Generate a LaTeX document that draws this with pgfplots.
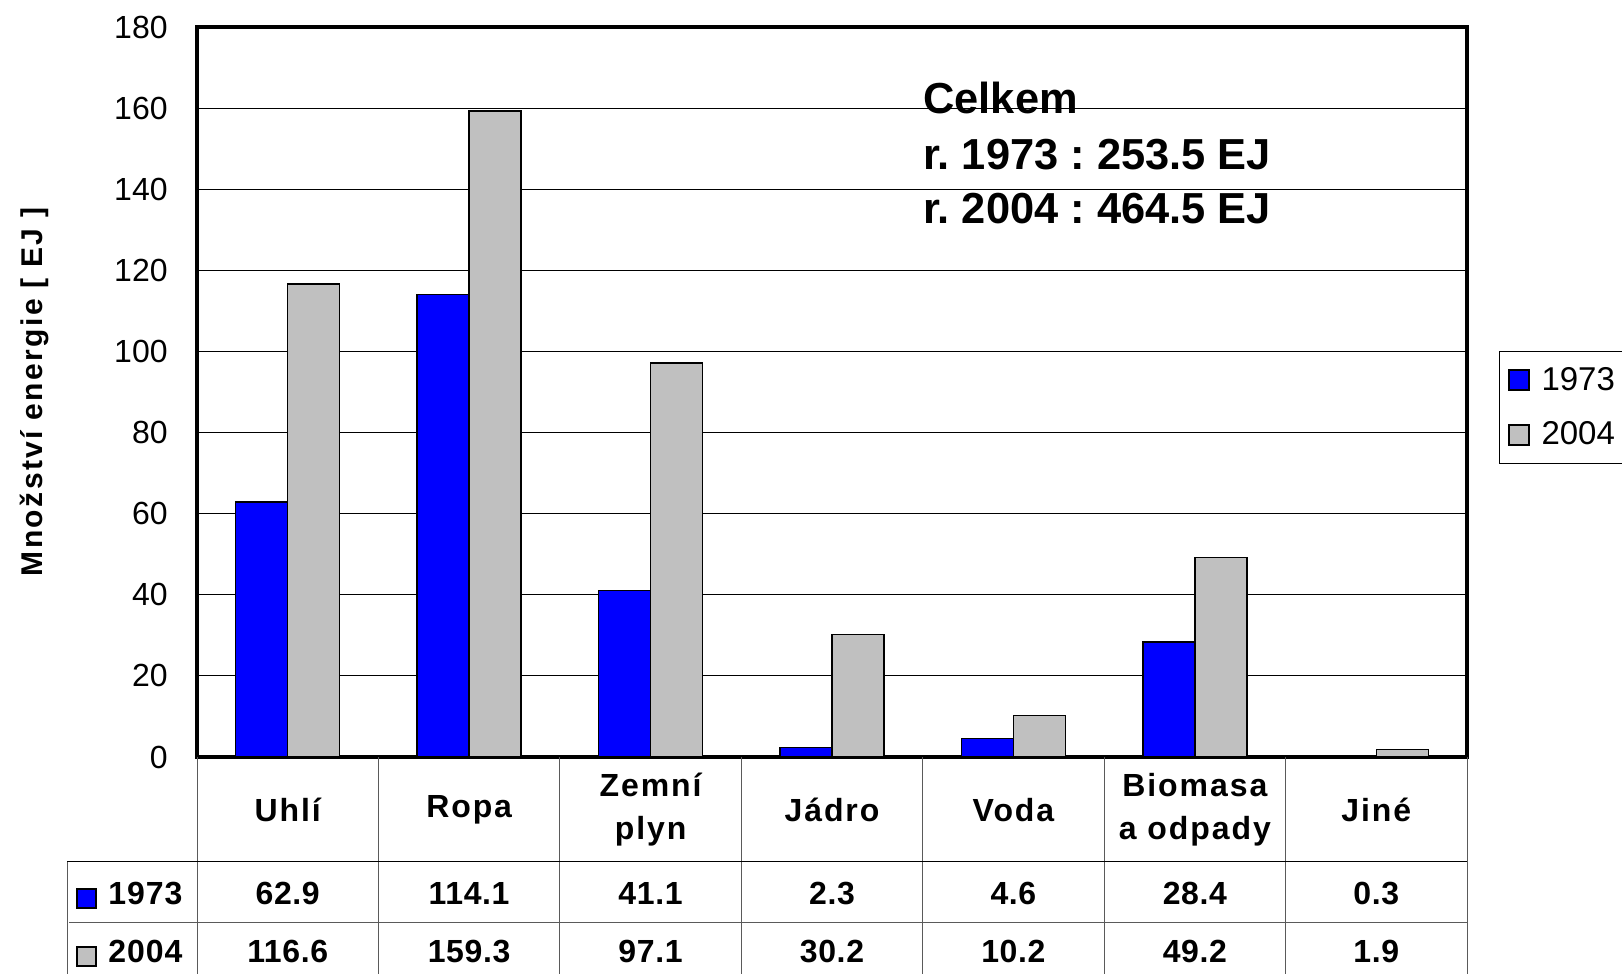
\documentclass[border=0pt]{standalone}
\usepackage{pgfplots}
\pgfplotsset{compat=1.18}
\usepackage{fontspec}
\setmainfont{Liberation Sans}
\definecolor{barblue}{RGB}{0,0,255}
\definecolor{bargray}{RGB}{192,192,192}
\definecolor{tabline}{RGB}{90,90,90}
\frenchspacing
\begin{document}
\begin{tikzpicture}[x=1pt,y=1pt]
\useasboundingbox (0,0) rectangle (811,487);
\begin{axis}[
  at={(98.5pt,108.5pt)}, anchor=south west,
  scale only axis, width=635pt, height=365pt,
  ybar=0pt, bar width=26pt,
  xmin=-0.5, xmax=6.5, ymin=0, ymax=180,
  ytick={0,20,...,180},
  xtick={0,...,6},
  xticklabels={Uhlí,Ropa,Zemní\\plyn,Jádro,Voda,Biomasa\\a odpady,Jiné},
  xticklabel style={align=center, anchor=center, yshift=-26.5pt,
    font=\fontsize{16}{21.5}\selectfont\bfseries\addfontfeatures{LetterSpace=6}},
  yticklabel style={anchor=east, inner sep=0pt, xshift=-14.5pt,
    font=\fontsize{16}{19}\selectfont},
  /pgf/number format/assume math mode=true,
  major tick length=0pt,
  ymajorgrids, grid style={black, line width=0.5pt},
  axis line style={line width=2pt},
  ylabel={Množství energie [ EJ ]},
  ylabel style={at={(rel axis cs:-0.1276,0.5)}, anchor=center,
    font=\fontsize{15}{18}\selectfont\bfseries\addfontfeatures{LetterSpace=8}},
  clip=false,
  legend style={at={(rel axis cs:1.0252,0.5562)}, anchor=north west,
    draw=black, line width=0.5pt, font=\fontsize{16.5}{19}\selectfont,
    inner xsep=4pt, inner ysep=6pt, row sep=10pt,
    nodes={inner sep=2pt}},
  legend cell align=left,
  every axis plot post/.append style={
    legend image code/.code={\draw[#1, line width=1pt] (0pt,-5pt) rectangle (10pt,5pt);}},
]
\addplot[fill=barblue, draw=black, line width=0.75pt] coordinates {
 (0,62.9) (1,114.1) (2,41.1) (3,2.3) (4,4.6) (5,28.4) (6,0.3)};
\addplot[fill=bargray, draw=black, line width=0.75pt] coordinates {
 (0,116.6) (1,159.3) (2,97.1) (3,30.2) (4,10.2) (5,49.2) (6,1.9)};
\legend{\hspace{4pt}1973,\hspace{4pt}2004}
\end{axis}
% annotation
\begin{scope}[every node/.style={anchor=base west, inner sep=0pt, font=\fontsize{21.7}{27}\selectfont\bfseries}]
\node at (461.5,430) {Celkem};
\node at (461.5,402) {r. 1973 : 253.5 EJ};
\node at (461.5,375) {r. 2004 : 464.5 EJ};
\end{scope}
% data table lines
\begin{scope}[tabline, line width=0.5pt]
\foreach \x in {98.5,189.21,279.93,370.64,461.36,552.07,642.79,733.5}
  \draw (\x,108.5) -- (\x,-2);
\draw (33.5,56) -- (33.5,-2);
\draw[black] (33.5,56) -- (733.5,56);
\draw (34.5,25.5) -- (733.5,25.5);
\end{scope}
% row labels
\draw[fill=barblue, line width=1pt] (38.5,33) rectangle (48,42.5);
\draw[fill=bargray, line width=1pt] (38.5,4) rectangle (48,13.5);
\begin{scope}[every node/.style={anchor=base, inner sep=0pt, font=\fontsize{16}{19}\selectfont\bfseries\addfontfeatures{LetterSpace=2}}]
\node[anchor=base west, font=\fontsize{16}{19}\selectfont\bfseries\addfontfeatures{LetterSpace=3}] at (54,34.5) {1973};
\node[anchor=base west, font=\fontsize{16}{19}\selectfont\bfseries\addfontfeatures{LetterSpace=3}] at (54,5.6) {2004};
\node at (143.86,34.5) {62.9};
\node at (234.57,34.5) {114.1};
\node at (325.29,34.5) {41.1};
\node at (416.00,34.5) {2.3};
\node at (506.71,34.5) {4.6};
\node at (597.43,34.5) {28.4};
\node at (688.14,34.5) {0.3};
\node at (143.86,5.6) {116.6};
\node at (234.57,5.6) {159.3};
\node at (325.29,5.6) {97.1};
\node at (416.00,5.6) {30.2};
\node at (506.71,5.6) {10.2};
\node at (597.43,5.6) {49.2};
\node at (688.14,5.6) {1.9};
\end{scope}
\end{tikzpicture}
\end{document}
